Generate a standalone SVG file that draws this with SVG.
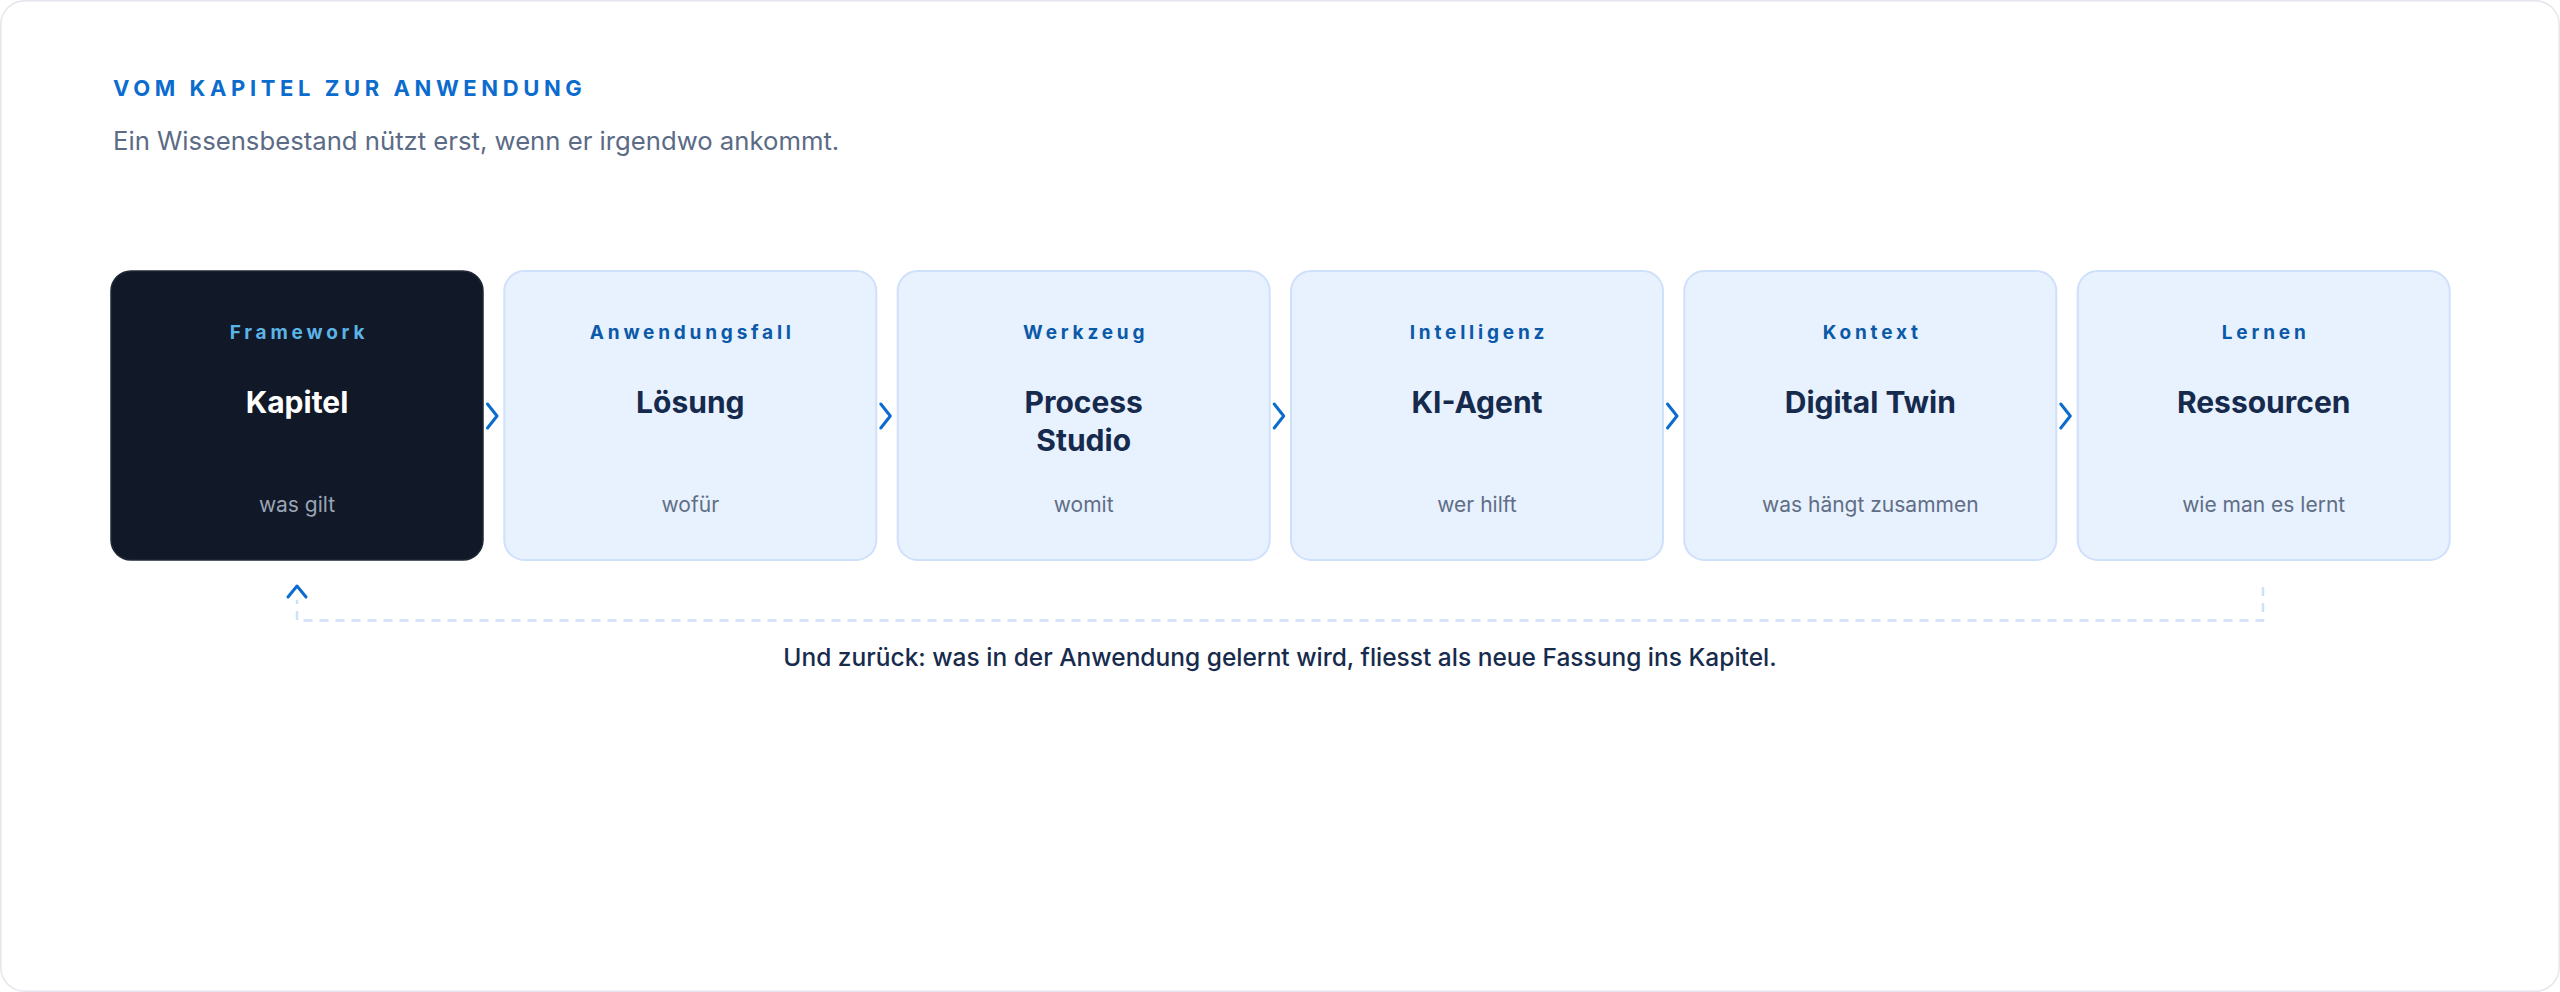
<svg xmlns="http://www.w3.org/2000/svg" width="2560" height="992" viewBox="0 0 2560 992">
<style>
text{font-family:Inter,"Noto Sans","Liberation Sans",sans-serif}
.frame{fill:#fff;stroke:#e3e6ec;stroke-width:1.5}
.h1{font-size:22px;font-weight:700;letter-spacing:4.6px;fill:#0b6cce}
.sub{font-size:25.7px;font-weight:400;fill:#5b6b86}
.card{fill:#e8f1fe;stroke:#cfe0fb;stroke-width:2}
.card.dark{fill:#111827;stroke:#1f2937;stroke-width:1.5}
.lbl{font-size:19px;font-weight:700;letter-spacing:3.8px;fill:#0b5aa8;text-anchor:middle}
.dark-lbl{fill:#5cb3e6}
.ttl{font-size:30px;font-weight:700;fill:#152a4c;text-anchor:middle}
.dark-ttl{fill:#ffffff}
.desc{font-size:21px;font-weight:400;fill:#5f6e86;text-anchor:middle}
.dark-desc{fill:#9aa4b5}
.chev{fill:none;stroke:#0b6cce;stroke-width:3;stroke-linecap:round;stroke-linejoin:round}
.dash{fill:none;stroke:#cfe0fb;stroke-width:2.5;stroke-dasharray:9 7}
.cap{font-size:24.5px;font-weight:500;fill:#172b4d;text-anchor:middle}
</style>
<rect class="frame" x="0.75" y="0.75" width="2558.5" height="990.5" rx="24"/>
<g id="header">
<text class="h1" x="113" y="96">VOM KAPITEL ZUR ANWENDUNG</text>
<text class="sub" x="113" y="150">Ein Wissensbestand nützt erst, wenn er irgendwo ankommt.</text>
</g>
<g id="node-kapitel">
<rect class="card dark" x="111" y="271" width="372" height="289" rx="20"/>
<text class="lbl dark-lbl" x="299" y="339">Framework</text>
<text class="ttl dark-ttl" x="297" y="413">Kapitel</text>
<text class="desc dark-desc" x="297" y="512">was gilt</text>
</g>
<g id="node-loesung">
<rect class="card" x="504.3" y="271" width="372" height="289" rx="20"/>
<text class="lbl" x="692.3" y="339">Anwendungsfall</text>
<text class="ttl" x="690.3" y="413">Lösung</text>
<text class="desc" x="690.3" y="512">wofür</text>
</g>
<g id="node-process-studio">
<rect class="card" x="897.7" y="271" width="372" height="289" rx="20"/>
<text class="lbl" x="1085.7" y="339">Werkzeug</text>
<text class="ttl" x="1083.7" y="413">Process</text>
<text class="ttl" x="1083.7" y="451">Studio</text>
<text class="desc" x="1083.7" y="512">womit</text>
</g>
<g id="node-ki-agent">
<rect class="card" x="1291" y="271" width="372" height="289" rx="20"/>
<text class="lbl" x="1479" y="339">Intelligenz</text>
<text class="ttl" x="1477" y="413">KI-Agent</text>
<text class="desc" x="1477" y="512">wer hilft</text>
</g>
<g id="node-digital-twin">
<rect class="card" x="1684.3" y="271" width="372" height="289" rx="20"/>
<text class="lbl" x="1872.3" y="339">Kontext</text>
<text class="ttl" x="1870.3" y="413">Digital Twin</text>
<text class="desc" x="1870.3" y="512">was hängt zusammen</text>
</g>
<g id="node-ressourcen">
<rect class="card" x="2077.7" y="271" width="372" height="289" rx="20"/>
<text class="lbl" x="2265.7" y="339">Lernen</text>
<text class="ttl" x="2263.7" y="413">Ressourcen</text>
<text class="desc" x="2263.7" y="512">wie man es lernt</text>
</g>
<g id="connectors">
<polyline class="chev" points="487.5,404 497,416 487.5,428"/>
<polyline class="chev" points="880.8,404 890.3,416 880.8,428"/>
<polyline class="chev" points="1274.2,404 1283.7,416 1274.2,428"/>
<polyline class="chev" points="1667.5,404 1677,416 1667.5,428"/>
<polyline class="chev" points="2060.8,404 2070.3,416 2060.8,428"/>
<polyline class="dash" points="2263,587 2263,620.5 297,620.5 297,600"/>
<polyline class="chev" points="288,597 297,586 306,597"/>
</g>
<g id="caption">
<text class="cap" x="1280" y="666">Und zurück: was in der Anwendung gelernt wird, fliesst als neue Fassung ins Kapitel.</text>
</g>
</svg>
